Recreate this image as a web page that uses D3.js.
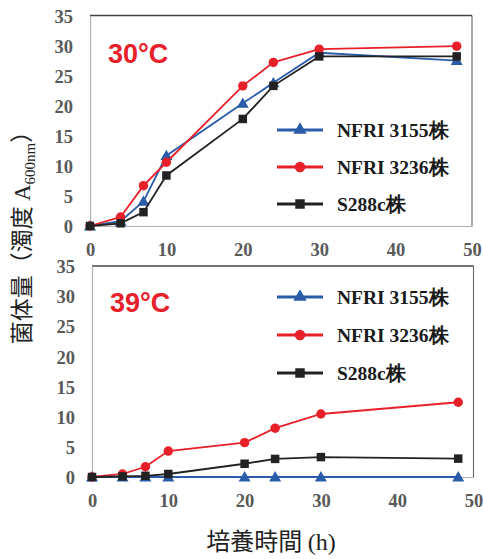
<!DOCTYPE html>
<html>
<head>
<meta charset="utf-8">
<script src="https://cdn.jsdelivr.net/npm/d3@7"></script>
<style>
  body { margin: 0; background: #fff; }
  svg { display: block; }
  .tick-label { font-family: 'Liberation Serif', 'Times New Roman', serif; font-weight: bold; font-size: 18.5px; fill: #595959; }
  .legend-label { font-family: 'Liberation Serif', 'Times New Roman', serif; font-weight: bold; font-size: 19.5px; fill: #1a1a1a; }
  .temp-label { font-family: 'Liberation Sans', Arial, sans-serif; font-weight: bold; font-size: 27px; fill: #e8202a; }
  .title { font-family: 'Noto Sans CJK JP', sans-serif; fill: #222; }
  .serif { font-family: 'Liberation Serif', 'Times New Roman', serif; }
</style>
</head>
<body>
<svg id="chart" width="483" height="559"></svg>
<script>
// culture time (h)
const hours = [0, 4, 7, 10, 20, 24, 30, 48];

const strainNames = ['NFRI 3155株', 'NFRI 3236株', 'S288c株'];

// 30°C
const nfri3155_30 = [0, 0.8, 4.1, 11.7, 20.4, 23.8, 28.8, 27.5];
const nfri3236_30 = [0, 1.5, 6.7, 10.6, 23.3, 27.2, 29.4, 29.9];
const s288c_30    = [0, 0.45, 2.3, 8.4, 17.8, 23.3, 28.2, 28.2];

// 39°C
const nfri3155_39 = [0, 0, 0, 0, 0, 0, 0, 0];
const nfri3236_39 = [0, 0.5, 1.7, 4.3, 5.7, 8.1, 10.45, 12.4];
const s288c_39    = [0, 0.1, 0.2, 0.5, 2.2, 3.0, 3.3, 3.05];

const xTicks = [0, 10, 20, 30, 40, 50];
const yTicks = [0, 5, 10, 15, 20, 25, 30, 35];

const colors = ['#2a5caa', '#e8202a', '#222222'];
const shapes = [d3.symbolTriangle, d3.symbolCircle, d3.symbolSquare];
const shapeSize = [62, 70, 72];

const svg = d3.select('#chart');

function drawPanel(panel) {
  const x = d3.scaleLinear().domain([0, 50]).range([panel.left, panel.right]);
  const y = d3.scaleLinear().domain([0, 35]).range([panel.bottom, panel.top]);
  const g = svg.append('g');

  // frame: top/right darker, axes light
  g.append('line')
    .attr('x1', x(0)).attr('x2', x(50)).attr('y1', y(35)).attr('y2', y(35))
    .attr('stroke', '#444').attr('stroke-width', 1.3);
  g.append('line')
    .attr('x1', x(50)).attr('x2', x(50)).attr('y1', y(35)).attr('y2', y(0))
    .attr('stroke', '#666').attr('stroke-width', 1.1);

  const yAxis = g.append('g')
    .attr('transform', 'translate(' + x(0) + ',0)')
    .call(d3.axisLeft(y).tickValues(yTicks).tickSize(0).tickPadding(17));
  const xAxis = g.append('g')
    .attr('transform', 'translate(0,' + y(0) + ')')
    .call(d3.axisBottom(x).tickValues(xTicks).tickSize(0).tickPadding(17));

  [xAxis, yAxis].forEach(ax => {
    ax.attr('font-family', null).attr('font-size', null);
    ax.select('.domain').attr('stroke', '#b0b0b0').attr('stroke-width', 1.2);
    ax.selectAll('text').attr('class', 'tick-label').attr('fill', null);
  });
  yAxis.selectAll('text').attr('dy', '0.36em');
  xAxis.selectAll('text').attr('dy', '0.71em');

  // temperature label
  g.append('text')
    .attr('class', 'temp-label')
    .attr('x', panel.left + 18)
    .attr('y', panel.labelY)
    .text(panel.label);

  const line = d3.line().x((d, i) => x(hours[i])).y(d => y(d));

  panel.series.forEach((vals, s) => {
    g.append('path')
      .datum(vals)
      .attr('fill', 'none')
      .attr('stroke', colors[s])
      .attr('stroke-width', 1.8)
      .attr('d', line);
    g.selectAll('.m' + s)
      .data(vals)
      .enter()
      .append('path')
      .attr('transform', (d, i) => 'translate(' + x(hours[i]) + ',' + (y(d) + (s === 0 ? 1 : 0)) + ')')
      .attr('d', d3.symbol().type(shapes[s]).size(shapeSize[s]))
      .attr('fill', colors[s]);
  });

  // legend
  panel.legendY.forEach((ly, s) => {
    g.append('line')
      .attr('x1', 277).attr('x2', 323).attr('y1', ly).attr('y2', ly)
      .attr('stroke', colors[s]).attr('stroke-width', 3);
    g.append('path')
      .attr('transform', 'translate(300,' + ly + ')')
      .attr('d', d3.symbol().type(shapes[s]).size(shapeSize[s] * 1.25))
      .attr('fill', colors[s]);
    g.append('text')
      .attr('class', 'legend-label')
      .attr('x', 337)
      .attr('y', ly + 7)
      .text(strainNames[s]);
  });
}

drawPanel({
  left: 90, right: 472, top: 15.5, bottom: 226,
  label: '30°C', labelY: 63,
  series: [nfri3155_30, nfri3236_30, s288c_30],
  legendY: [130, 167, 204]
});

drawPanel({
  left: 92, right: 473.5, top: 266, bottom: 477,
  label: '39°C', labelY: 312,
  series: [nfri3155_39, nfri3236_39, s288c_39],
  legendY: [297, 335, 373]
});

// y axis title
const yTitle = svg.append('text')
  .attr('class', 'title')
  .attr('transform', 'translate(30,232) rotate(-90)')
  .attr('text-anchor', 'middle')
  .style('font-size', '23px');
yTitle.append('tspan').text('菌体量（濁度 ');
yTitle.append('tspan').attr('class', 'serif').text('A');
yTitle.append('tspan').attr('class', 'serif')
  .style('font-size', '15px').attr('dy', 5).text('600nm');
yTitle.append('tspan').attr('dy', -5).text('）');

// x axis title
const xTitle = svg.append('text')
  .attr('class', 'title')
  .attr('x', 271)
  .attr('y', 550)
  .attr('text-anchor', 'middle')
  .style('font-size', '24px');
xTitle.append('tspan').text('培養時間 ');
xTitle.append('tspan').attr('class', 'serif').text('(h)');
</script>
</body>
</html>
